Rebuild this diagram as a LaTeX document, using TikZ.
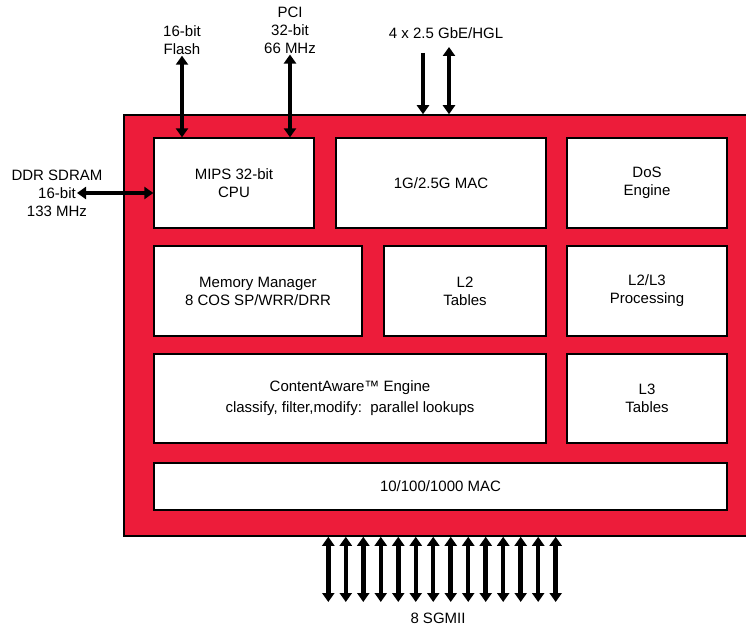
\documentclass[tikz,border=0pt]{standalone}
\usepackage{fontspec}
\setmainfont{Liberation Sans}
\usetikzlibrary{arrows.meta,positioning}
\definecolor{chipred}{RGB}{237,28,58}

\begin{document}
\begin{tikzpicture}[x=1pt,y=-1pt,>={Triangle[width=12pt,length=9pt]},
  font=\fontsize{15}{18}\selectfont,
  blk/.style={draw,line width=1.3pt,fill=white,align=center,inner sep=0pt},
  bus/.style={line width=4.5pt},
  lbl/.style={align=center,inner sep=1pt}]
\useasboundingbox (0,0) rectangle (746,628);
% chip outline
\node[draw,line width=1.5pt,fill=chipred,minimum width=640pt,minimum height=421pt,inner sep=0pt] (chip) at (444,325.5) {};

% blocks
\node[blk,minimum width=160pt,minimum height=90pt] (cpu) at (234,183) {MIPS 32-bit\\CPU};
\node[blk,minimum width=210pt,minimum height=90pt] (mac) at (441,183) {1G/2.5G MAC};
\node[blk,minimum width=160pt,minimum height=90pt] (dos) at (647,183) {DoS\\Engine};
\node[blk,minimum width=208pt,minimum height=90pt] (mem) at (258,291) {Memory Manager\\8 COS SP/WRR/DRR};
\node[blk,minimum width=162pt,minimum height=90pt] (ltwo) at (465,291) {L2\\Tables};
\node[blk,minimum width=160pt,minimum height=90pt] (proc) at (647,291) {L2/L3\\Processing};
\node[blk,minimum width=392pt,minimum height=89pt] (cae) at (350,398.5) {ContentAware™ Engine\\[3pt]classify, filter,modify:\ \ parallel lookups};
\node[blk,minimum width=160pt,minimum height=89pt] (lthree) at (647,398.5) {L3\\Tables};
\node[blk,minimum width=573pt,minimum height=47pt] (gmac) at (440.5,486.5) {10/100/1000 MAC};

% outside labels
\node[lbl] (flash) at (182,40) {16-bit\\Flash};
\node[lbl] (pci) at (290,30) {PCI\\32-bit\\66 MHz};
\node[lbl] (gbe) at (446,33) {4 x 2.5 GbE/HGL};
\node[lbl] (ddr) at (57,193) {DDR SDRAM\\16-bit\\133 MHz};
\node[lbl] (sgmii) at (438,618) {8 SGMII};

% buses
\draw[bus,<->] (flash.south) -- (flash.south |- cpu.north);
\draw[bus,<->] (pci.south) -- (pci.south |- cpu.north);
\coordinate (d) at (77,193);
\draw[bus,<->] (d) -- (d -| cpu.west);
\coordinate (g1) at (423,53);
\coordinate (g2) at (449,47);
\draw[bus,->] (g1) -- (g1 |- chip.north);
\draw[bus,<->] (g2) -- (g2 |- chip.north);
\foreach \i in {0,...,13}{
  \coordinate (s\i) at (328.3+\i*17.49,602);
  \draw[bus,<->] (s\i |- chip.south) -- (s\i);
}
\end{tikzpicture}
\end{document}
